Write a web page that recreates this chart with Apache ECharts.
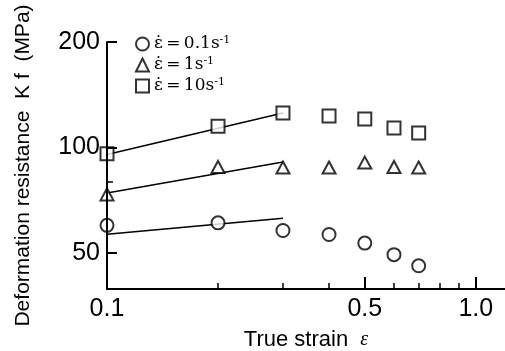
<!DOCTYPE html>
<html>
<head>
<meta charset="utf-8">
<script src="https://cdn.jsdelivr.net/npm/echarts@6/dist/echarts.min.js"></script>
<style>
  html, body { margin: 0; padding: 0; background: #fff; }
  #chart { width: 505px; height: 351px; }
</style>
</head>
<body>
<div id="chart"></div>
<script>
// measured points (true strain vs Kf, MPa)
const strain = [0.1, 0.2, 0.3, 0.4, 0.5, 0.6, 0.7];
const kfRate01 = [60, 61, 58, 56.5, 53.4, 49.5, 46];
const kfRate1 = [73.5, 88, 87.7, 87.7, 90.6, 88, 87.7];
const kfRate10 = [96, 115, 125.4, 123, 120.6, 113.7, 110];

// fitted lines over the low-strain range
const fitStrain = [0.1, 0.3];
const fitRate01 = [56.6, 62.9];
const fitRate1 = [74.2, 90.9];
const fitRate10 = [95.5, 125.4];

const rates = ['0.1', '1', '10'];
const xMajorTicks = [0.1, 0.5, 1.0];
const xMinorTicks = [0.2, 0.3, 0.4, 0.6, 0.7, 0.8, 0.9];
const yMajorTicks = [50, 100, 200];
const yMinorTicks = [80];

const pairs = (xs, ys) => xs.map((x, i) => [x, ys[i]]);

const chart = echarts.init(document.getElementById('chart'));

const pointStyle = { color: '#fff', borderColor: '#000', borderWidth: 2 };
const labelFont = { color: '#000', fontFamily: 'Liberation Sans, Arial, sans-serif', fontSize: 25 };
const serif = 'DejaVu Serif, serif';

const scatter = (name, ys, symbol, size) => ({
  name,
  type: 'scatter',
  data: pairs(strain, ys),
  symbol,
  symbolSize: size,
  itemStyle: pointStyle,
  z: 3,
});

const fitLine = (ys) => ({
  type: 'line',
  data: pairs(fitStrain, ys),
  showSymbol: false,
  silent: true,
  lineStyle: { color: '#000', width: 1.5 },
  z: 2,
});

const baseX = {
  type: 'log',
  min: 0.1,
  max: 1.2,
  position: 'bottom',
  splitLine: { show: false },
};
const baseY = {
  type: 'log',
  min: 39.5,
  max: 200,
  position: 'left',
  splitLine: { show: false },
};

chart.setOption({
  animation: false,
  grid: { left: 107, right: 0, top: 42, bottom: 62, containLabel: false, outerBoundsMode: 'none' },
  legend: {
    orient: 'vertical',
    left: 130,
    top: 30,
    itemWidth: 13,
    itemHeight: 13,
    itemGap: 2,
    data: rates.map((r) => 'rate' + r),
    formatter: (name) => '{t|ε̇\u2009=\u2009' + name.slice(4) + 's}{s|-1}',
    textStyle: {
      color: '#000',
      rich: {
        t: { fontFamily: serif, fontSize: 17, lineHeight: 18, color: '#000' },
        s: { fontFamily: serif, fontSize: 11, lineHeight: 18, color: '#000', verticalAlign: 'top', padding: [0, 0, 8, 0] },
      },
    },
  },
  xAxis: [
    {
      ...baseX,
      name: 'True strain  {e|ε}',
      nameLocation: 'middle',
      nameGap: 40,
      nameTextStyle: {
        color: '#000', fontFamily: 'Liberation Sans, Arial, sans-serif', fontSize: 22,
        rich: { e: { fontFamily: 'Liberation Serif, serif', fontStyle: 'italic', fontSize: 20, color: '#000' } },
      },
      axisLine: { lineStyle: { color: '#000', width: 2 } },
      axisTick: { inside: true, length: 12, customValues: xMajorTicks, lineStyle: { color: '#000', width: 2 } },
      axisLabel: {
        ...labelFont,
        margin: 8,
        customValues: xMajorTicks,
        formatter: (v) => (v === 1 ? '1.0' : String(v)),
      },
    },
    {
      ...baseX,
      axisLine: { show: false },
      axisTick: { inside: true, length: 6, customValues: xMinorTicks, lineStyle: { color: '#000', width: 1.5 } },
      axisLabel: { show: false },
    },
  ],
  yAxis: [
    {
      ...baseY,
      z: 4,
      name: 'Deformation resistance  K f  (MPa)',
      nameLocation: 'middle',
      nameGap: 73,
      nameTextStyle: { color: '#000', fontFamily: 'Liberation Sans, Arial, sans-serif', fontSize: 21 },
      axisLine: { lineStyle: { color: '#000', width: 2 } },
      axisTick: { inside: true, length: 10, customValues: yMajorTicks, lineStyle: { color: '#000', width: 2 } },
      axisLabel: { ...labelFont, margin: 7, customValues: yMajorTicks },
    },
    {
      ...baseY,
      axisLine: { show: false },
      axisTick: { inside: true, length: 6, customValues: yMinorTicks, lineStyle: { color: '#000', width: 1.5 } },
      axisLabel: { show: false },
    },
  ],
  series: [
    fitLine(fitRate01),
    fitLine(fitRate1),
    fitLine(fitRate10),
    scatter('rate' + rates[0], kfRate01, 'circle', 13),
    scatter('rate' + rates[1], kfRate1, 'triangle', [13, 12]),
    scatter('rate' + rates[2], kfRate10, 'rect', 13),
  ],
});
</script>
</body>
</html>
